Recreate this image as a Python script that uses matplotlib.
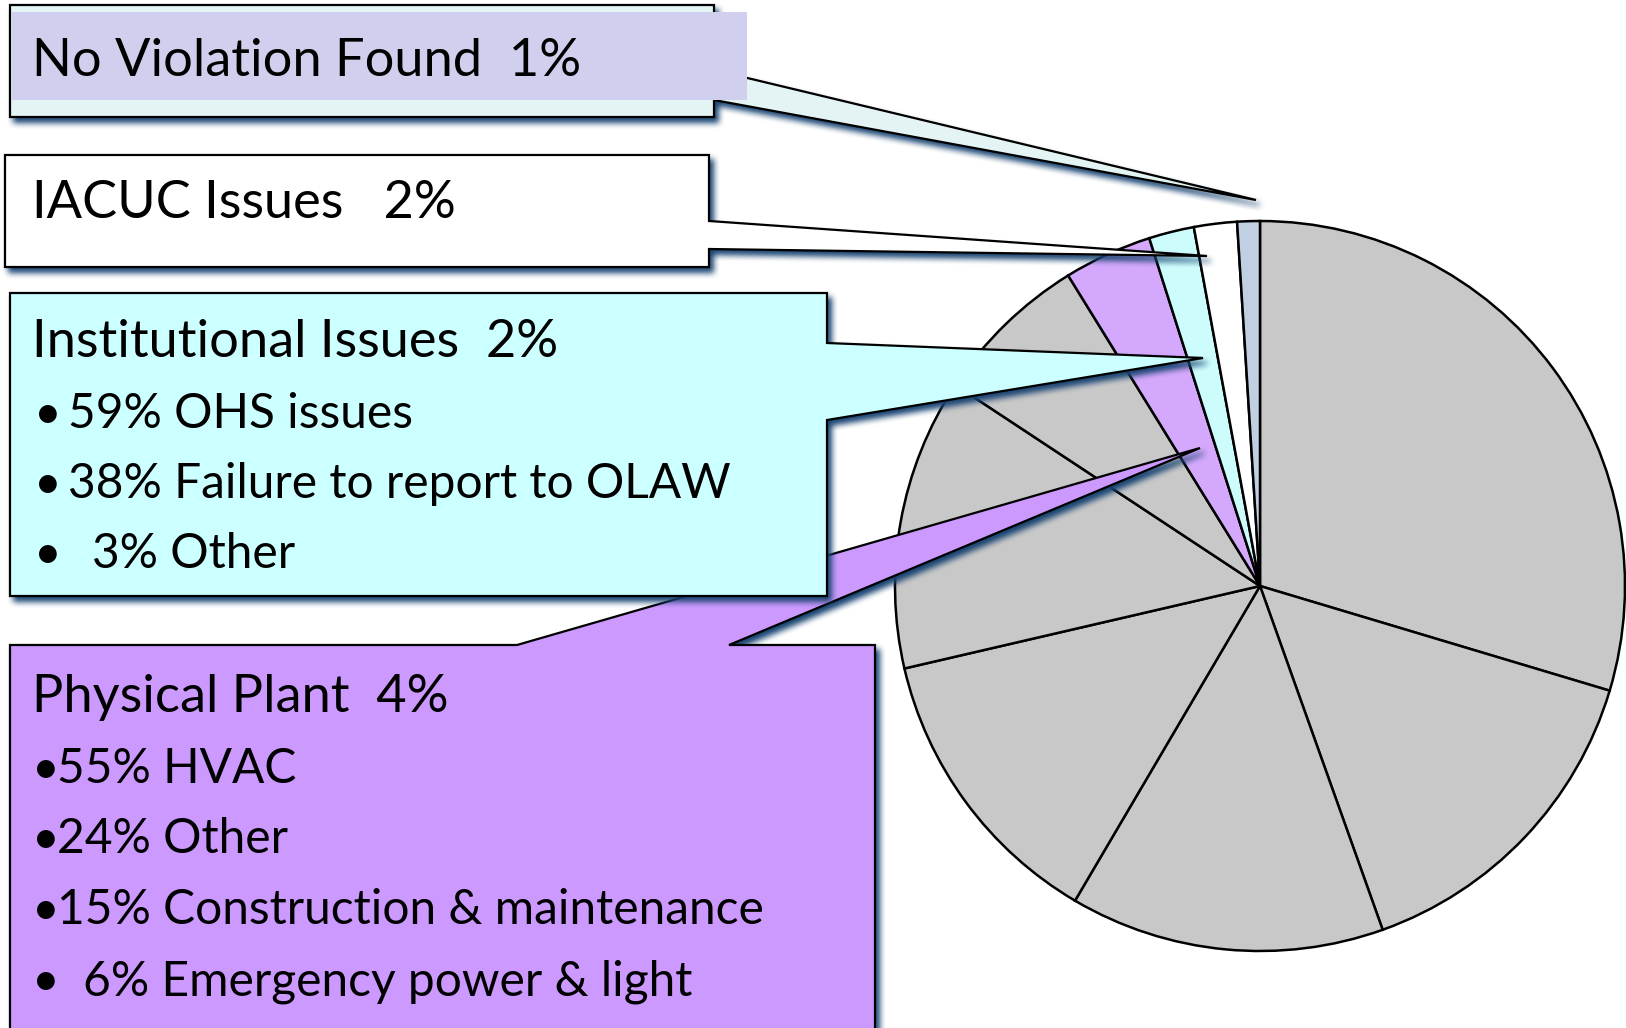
import numpy as np
import matplotlib
matplotlib.use("Agg")
import matplotlib.pyplot as plt
from matplotlib.patches import Polygon, Rectangle

# pie slices, clockwise from 12 o'clock (gray ones are unlabeled)
slice_values = [29.6, 14.9, 13.9, 12.9, 12.9, 6.9, 3.9, 2.0, 1.9, 1.0]
slice_colors = ['#c8c8c8'] * 6 + ['#d4a8fc', '#ccfcfc', '#ffffff', '#c0d0e2']

nv_label = 'No Violation Found  1%'
iacuc_label = 'IACUC Issues   2%'
inst_title = 'Institutional Issues  2%'
inst_items = ['59% OHS issues', '38% Failure to report to OLAW', '3% Other']
plant_title = 'Physical Plant  4%'
plant_items = ['55% HVAC', '24% Other', '15% Construction & maintenance',
               '6% Emergency power & light']

FONT = ['Lato', 'DejaVu Sans']
W, H = 1626, 1028


def box1d(a, r, axis):
    k = 2 * r + 1
    a = np.moveaxis(a, axis, 0)
    p = np.pad(a, ((r + 1, r), (0, 0)))
    c = np.cumsum(p, axis=0)
    out = (c[k:] - c[:-k]) / k
    return np.moveaxis(out, 0, axis)


class Shadow:
    def __init__(self, color=(0.10, 0.27, 0.45), alpha=1.0, dx=4, dy=5, r=3):
        self.color = color
        self.alpha = alpha
        self.dx, self.dy, self.r = dx, dy, r

    def __call__(self, im, dpi):
        pad = 3 * self.r + max(self.dx, self.dy) + 2
        a = np.pad(im[:, :, 3].astype(float), pad)
        for _ in range(2):
            a = box1d(a, self.r, 0)
            a = box1d(a, self.r, 1)
        a = np.roll(a, self.dy, axis=0)
        a = np.roll(a, self.dx, axis=1)
        out = np.zeros(a.shape + (4,), dtype=float)
        out[..., :3] = self.color
        out[..., 3] = np.clip(a * self.alpha, 0, 1)
        return out, -pad, -pad


fig = plt.figure(figsize=(W / 100, H / 100), dpi=100)
ax = fig.add_axes([0, 0, 1, 1])

ax.pie(slice_values, colors=slice_colors, startangle=270, counterclock=True,
       center=(1260, 586), radius=365,
       wedgeprops=dict(edgecolor='black', linewidth=1.8))
ax.set_xlim(0, W)
ax.set_ylim(H, 0)
ax.set_aspect('equal')
ax.axis('off')


def callout(pts, face, z):
    sh = Polygon(pts, closed=True, facecolor='k', edgecolor='k', lw=1.5, zorder=z - 0.5)
    sh.set_agg_filter(Shadow())
    ax.add_patch(sh)
    ax.add_patch(Polygon(pts, closed=True, facecolor=face, edgecolor='black',
                         lw=1.6, joinstyle='miter', zorder=z))


# drawn bottom to top
callout([(10, 645), (517, 645), (1200, 448), (729, 645), (875, 645), (875, 1080), (10, 1080)],
        '#cc99ff', 2)
callout([(10, 293), (827, 293), (827, 343), (1203, 358), (827, 420), (827, 596), (10, 596)],
        '#ccffff', 3)
callout([(5, 155), (709, 155), (709, 221), (1207, 256), (709, 249), (709, 267), (5, 267)],
        '#ffffff', 4)
callout([(10, 5), (714, 5), (714, 70), (1256, 200), (714, 100), (714, 117), (10, 117)],
        '#e4f4f4', 5)
ax.add_patch(Rectangle((12, 12), 735, 88, facecolor='#d0d0ee', edgecolor='none', zorder=6))

renderer = fig.canvas.get_renderer()


def fit(pairs, size0=40):
    sizes = []
    for s, target in pairs:
        t = ax.text(0, 0, s, fontsize=size0, family=FONT)
        w = t.get_window_extent(renderer).width
        t.remove()
        sizes.append(size0 * target / w)
    return float(np.median(sizes))


title_size = fit([(nv_label, 552), (inst_title, 537), (iacuc_label, 412), (plant_title, 415)])
item_size = fit([(inst_items[1], 655), (plant_items[2], 723), (plant_items[3], 617),
                 (inst_items[0], 334)])


def txt(x, y, s, size):
    ax.text(x, y, s, fontsize=size, family=FONT, va='baseline', ha='left', zorder=10)


txt(32, 76, nv_label, title_size)
txt(32, 218, iacuc_label, title_size)
txt(32, 357, inst_title, title_size)
txt(32, 712, plant_title, title_size)

for y, x, s in zip([428, 498, 568], [68, 68, 92], inst_items):
    txt(34, y, '\u2022', item_size)
    txt(x, y, s, item_size)
for y, x, s in zip([783, 853, 924, 995], [57, 57, 57, 83], plant_items):
    txt(32, y, '\u2022', item_size)
    txt(x, y, s, item_size)

fig.savefig('out.png', dpi=100)
